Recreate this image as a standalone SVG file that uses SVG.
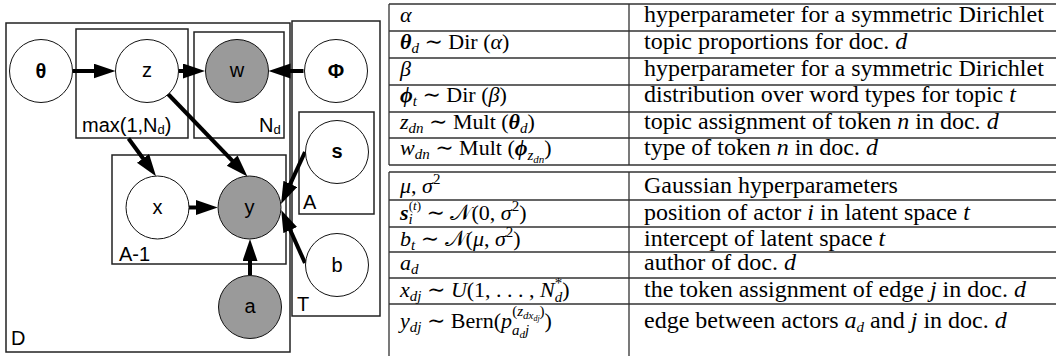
<svg xmlns="http://www.w3.org/2000/svg" width="1056" height="356" viewBox="0 0 1056 356">
<style>
.plate{fill:none;stroke:#222;stroke-width:1.5}
.node{stroke:#111;stroke-width:1}
.lat{fill:#fff}
.obs{fill:#9a9a9a}
.lbl{font-family:"Liberation Sans",Arial,sans-serif;font-size:20px;text-anchor:middle;fill:#000}
.bold{font-weight:bold}
.plbl{font-family:"Liberation Sans",Arial,sans-serif;font-size:20px;fill:#000}
.psub{font-size:13px}
.edge{stroke:#000;stroke-width:4;fill:none;marker-end:url(#ah)}
.tl{stroke:#333;stroke-width:1.3;fill:none}
.m{font-family:"Liberation Serif","DejaVu Serif",serif;font-size:22px;fill:#000}
.t{font-family:"Liberation Serif","DejaVu Serif",serif;font-size:24px;fill:#000}
.i{font-style:italic}
.b{font-weight:bold;font-style:italic}
.s{font-size:15px}
.s2{font-size:13px}
.ss{font-size:11px}
.sss{font-size:8px}
</style>
<defs>
<marker id="ah" markerUnits="userSpaceOnUse" markerWidth="23" markerHeight="16" refX="14" refY="7.5" orient="auto">
<path d="M0,0 L22,7.5 L0,15 z" fill="#000"/>
</marker>
</defs>

<g id="plates">
<rect id="plate-D" class="plate" x="6" y="23" width="284" height="329"/>
<rect id="plate-max" class="plate" x="76" y="29" width="112" height="109"/>
<rect id="plate-Nd" class="plate" x="194" y="32" width="90" height="106" stroke="#555"/>
<rect id="plate-T" class="plate" x="292" y="21" width="88" height="295"/>
<rect id="plate-A" class="plate" x="299" y="112" width="75" height="102"/>
<rect id="plate-A1" class="plate" x="112" y="155" width="174" height="109" stroke="#555"/>
<text class="plbl" x="82" y="132">max(1,N<tspan class="psub" dy="2">d</tspan><tspan dy="-2">)</tspan></text>
<text class="plbl" x="259" y="132">N<tspan class="psub" dy="2">d</tspan></text>
<text class="plbl" x="303" y="209">A</text>
<text class="plbl" x="297" y="311">T</text>
<text class="plbl" x="119" y="261">A-1</text>
<text class="plbl" x="11" y="345">D</text>
</g>

<g id="connectors">
<line class="edge" x1="72.5" y1="71" x2="107.5" y2="71"/>
<line class="edge" x1="178.5" y1="71" x2="197" y2="71"/>
<line class="edge" x1="303.5" y1="71" x2="276.5" y2="71"/>
<line class="edge" x1="168" y1="94" x2="241.9" y2="170.7"/>
<line class="edge" x1="128.5" y1="138.5" x2="151.3" y2="169.7"/>
<line class="edge" x1="305" y1="152" x2="284.4" y2="196.7"/>
<line class="edge" x1="305" y1="263" x2="284.5" y2="217.3"/>
<line class="edge" x1="189" y1="207.5" x2="209.8" y2="207.5"/>
<line class="edge" x1="250" y1="275.2" x2="250" y2="247"/>
</g>

<g id="node-theta"><circle class="node lat" cx="41" cy="71" r="31.5"/><text class="lbl bold" x="41" y="78">θ</text></g>
<g id="node-z"><circle class="node lat" cx="147" cy="71" r="31.5"/><text class="lbl" x="147" y="77">z</text></g>
<g id="node-w"><circle class="node obs" cx="237" cy="71" r="31.5"/><text class="lbl" x="237" y="77">w</text></g>
<g id="node-phi"><circle class="node lat" cx="336" cy="71" r="31.5"/><text class="lbl bold" x="336" y="78">Φ</text></g>
<g id="node-s"><circle class="node lat" cx="337" cy="152" r="31.5"/><text class="lbl bold" x="337" y="158">s</text></g>
<g id="node-x"><circle class="node lat" cx="157.5" cy="207.5" r="31.5"/><text class="lbl" x="157.5" y="213.5">x</text></g>
<g id="node-y"><circle class="node obs" cx="249.5" cy="207.5" r="31.5"/><text class="lbl" x="249.5" y="213.5">y</text></g>
<g id="node-b"><circle class="node lat" cx="337" cy="265" r="31.5"/><text class="lbl" x="337" y="272">b</text></g>
<g id="node-a"><circle class="node obs" cx="250" cy="307" r="31.5"/><text class="lbl" x="250" y="313">a</text></g>

<g id="table">
<path class="tl" d="M389,4H1056M389,31H1056M389,58H1056M389,85H1056M389,112H1056M389,138H1056M389,165H1056M389,4V165M629,4V165"/>
<path class="tl" d="M389,172H1056M389,200H1056M389,227H1056M389,252H1056M389,278H1056M389,304H1056M389,172V356M629,172V356"/>

<text class="m" x="400" y="22"><tspan class="i">α</tspan></text>
<text class="m" x="400" y="49"><tspan class="b">θ</tspan><tspan class="s i" dy="4">d</tspan><tspan dy="-4"> ∼ Dir (</tspan><tspan class="i">α</tspan>)</text>
<text class="m" x="400" y="76"><tspan class="i">β</tspan></text>
<text class="m" x="400" y="102"><tspan class="b">ϕ</tspan><tspan class="s i" dy="4">t</tspan><tspan dy="-4"> ∼ Dir (</tspan><tspan class="i">β</tspan>)</text>
<text class="m" x="400" y="129"><tspan class="i">z</tspan><tspan class="s i" dy="4">dn</tspan><tspan dy="-4"> ∼ Mult (</tspan><tspan class="b">θ</tspan><tspan class="s i" dy="4">d</tspan><tspan dy="-4">)</tspan></text>
<text class="m" x="400" y="155"><tspan class="i">w</tspan><tspan class="s i" dy="4">dn</tspan><tspan dy="-4"> ∼ Mult (</tspan><tspan class="b">ϕ</tspan><tspan class="s i" dy="5">z</tspan><tspan class="ss i" dy="3">dn</tspan><tspan dy="-8">)</tspan></text>

<text class="m" x="400" y="193"><tspan class="i">μ</tspan>, <tspan class="i">σ</tspan><tspan class="s" dy="-9">2</tspan></text>
<text class="m" x="400" y="220"><tspan class="b">s</tspan><tspan class="s i" dy="4">i</tspan><tspan class="s2" dx="-4" dy="-14">(</tspan><tspan class="s2 i">t</tspan><tspan class="s2">)</tspan><tspan dy="10"> ∼ 𝒩(0, </tspan><tspan class="i">σ</tspan><tspan class="s" dy="-9">2</tspan><tspan dy="9">)</tspan></text>
<text class="m" x="400" y="246"><tspan class="i">b</tspan><tspan class="s i" dy="4">t</tspan><tspan dy="-4"> ∼ 𝒩(</tspan><tspan class="i">μ</tspan>, <tspan class="i">σ</tspan><tspan class="s" dy="-9">2</tspan><tspan dy="9">)</tspan></text>
<text class="m" x="400" y="270"><tspan class="i">a</tspan><tspan class="s i" dy="4">d</tspan></text>
<text class="m" x="400" y="297"><tspan class="i">x</tspan><tspan class="s i" dy="4">dj</tspan><tspan dy="-4"> ∼ </tspan><tspan class="i">U</tspan>(1, . . . , <tspan class="i">N</tspan><tspan class="s i" dy="5">d</tspan><tspan class="s" dx="-7.5" dy="-14">*</tspan><tspan dy="9">)</tspan></text>
<text class="m" x="400" y="328"><tspan class="i">y</tspan><tspan class="s i" dy="4">dj</tspan><tspan dy="-4"> ∼ Bern(</tspan><tspan class="i">p</tspan><tspan class="s i" dy="7">a</tspan><tspan class="ss i" dy="3">d</tspan><tspan class="s i" dy="-3">j</tspan><tspan class="s" dx="-17" dy="-19">(</tspan><tspan class="s i">z</tspan><tspan class="ss i" dy="3">dx</tspan><tspan class="sss i" dy="2">dj</tspan><tspan class="s" dy="-5">)</tspan><tspan dy="12">)</tspan></text>

<text class="t" x="644" y="22">hyperparameter for a symmetric Dirichlet</text>
<text class="t" x="644" y="49">topic proportions for doc. <tspan class="i">d</tspan></text>
<text class="t" x="644" y="76">hyperparameter for a symmetric Dirichlet</text>
<text class="t" x="644" y="102">distribution over word types for topic <tspan class="i">t</tspan></text>
<text class="t" x="644" y="129">topic assignment of token <tspan class="i">n</tspan> in doc. <tspan class="i">d</tspan></text>
<text class="t" x="644" y="155">type of token <tspan class="i">n</tspan> in doc. <tspan class="i">d</tspan></text>
<text class="t" x="644" y="193">Gaussian hyperparameters</text>
<text class="t" x="644" y="220">position of actor <tspan class="i">i</tspan> in latent space <tspan class="i">t</tspan></text>
<text class="t" x="644" y="246">intercept of latent space <tspan class="i">t</tspan></text>
<text class="t" x="644" y="270">author of doc. <tspan class="i">d</tspan></text>
<text class="t" x="644" y="297">the token assignment of edge <tspan class="i">j</tspan> in doc. <tspan class="i">d</tspan></text>
<text class="t" x="644" y="328">edge between actors <tspan class="i">a</tspan><tspan class="s i" dy="4">d</tspan><tspan dy="-4"> and </tspan><tspan class="i">j</tspan> in doc. <tspan class="i">d</tspan></text>
</g>
</svg>
